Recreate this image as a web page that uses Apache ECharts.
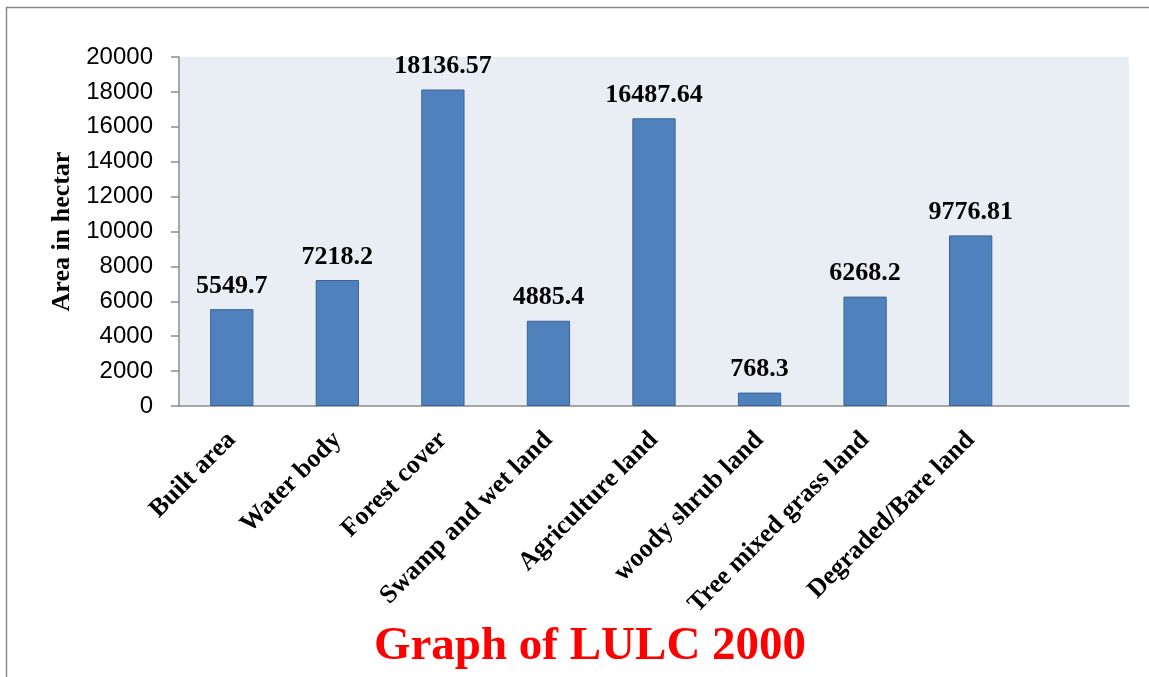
<!DOCTYPE html>
<html>
<head>
<meta charset="utf-8">
<script src="https://cdn.jsdelivr.net/npm/echarts@6/dist/echarts.min.js"></script>
<style>html,body{margin:0;padding:0;background:#fff;}#c{width:1149px;height:677px;}</style>
</head>
<body>
<div id="c"></div>
<script>
const categories = ['Built area','Water body','Forest cover','Swamp and wet land','Agriculture land','woody shrub land','Tree mixed grass land','Degraded/Bare land',''];
const areaValues = [5549.7, 7218.2, 18136.57, 4885.4, 16487.64, 768.3, 6268.2, 9776.81, null];
const yTicks = [0, 2000, 4000, 6000, 8000, 10000, 12000, 14000, 16000, 18000, 20000];
const titleText = 'Graph of LULC 2000';

const chart = echarts.init(document.getElementById('c'));
chart.setOption({
  animation: false,
  backgroundColor: '#ffffff',
  graphic: [{
    type: 'rect',
    shape: {x: 6.5, y: 7.5, width: 1200, height: 800},
    style: {fill: 'none', stroke: '#8a8a8a', lineWidth: 1.5},
    silent: true
  }, {
    type: 'text',
    x: 590, y: 647,
    style: {
      text: titleText, fill: '#ff0000',
      font: 'bold 47px "Liberation Serif"',
      textAlign: 'center', textVerticalAlign: 'middle'
    },
    silent: true
  }],
  grid: {
    left: 179, right: 20, top: 57, bottom: 271,
    show: true, backgroundColor: '#e9edf4', borderWidth: 0
  },
  xAxis: {
    type: 'category',
    data: categories,
    axisLine: {show: true, lineStyle: {color: '#8c8c8c', width: 1.5}},
    axisTick: {show: false},
    axisLabel: {
      interval: 0, rotate: 45, margin: 30,
      color: '#000', fontFamily: 'Liberation Serif', fontWeight: 'bold', fontSize: 26
    }
  },
  yAxis: {
    type: 'value',
    min: yTicks[0], max: yTicks[yTicks.length - 1], interval: 2000,
    name: 'Area in hectar',
    nameLocation: 'middle',
    nameGap: 100,
    nameRotate: 90,
    nameTextStyle: {color: '#000', fontFamily: 'Liberation Serif', fontWeight: 'bold', fontSize: 26},
    axisLine: {show: true, lineStyle: {color: '#8c8c8c', width: 1.5}},
    axisTick: {show: true, length: 8, lineStyle: {color: '#8c8c8c', width: 1.5}},
    splitLine: {show: false},
    axisLabel: {
      margin: 26, color: '#000', fontFamily: 'Liberation Sans', fontSize: 24,
      formatter: v => String(v)
    }
  },
  series: [{
    type: 'bar',
    data: areaValues,
    barWidth: '41%',
    itemStyle: {color: '#4f81bd', borderColor: '#3c6494', borderWidth: 1},
    label: {
      show: true, position: 'top', distance: 10,
      color: '#000', fontFamily: 'Liberation Serif', fontWeight: 'bold', fontSize: 26,
      formatter: p => p.value == null ? '' : String(p.value)
    }
  }]
});
</script>
</body>
</html>
